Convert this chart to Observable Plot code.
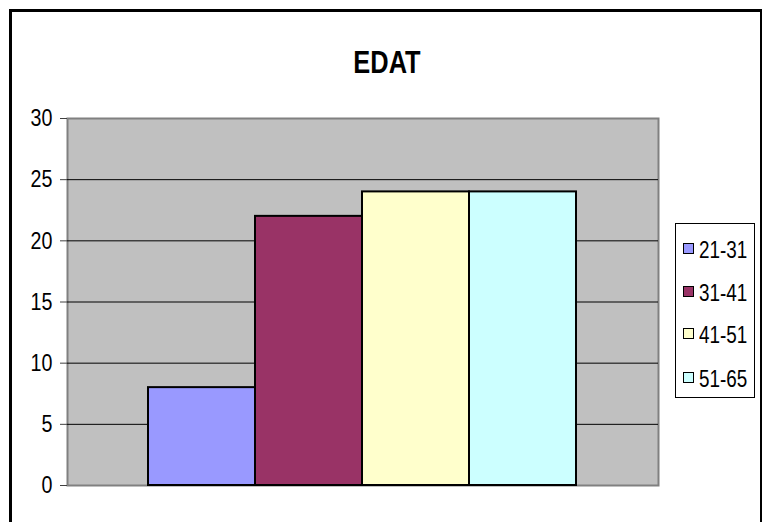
<!DOCTYPE html>
<html>
<head>
<meta charset="utf-8">
<script src="https://cdn.jsdelivr.net/npm/d3@7"></script>
<script src="https://cdn.jsdelivr.net/npm/@observablehq/plot@0.6"></script>
<style>
  html, body { margin: 0; padding: 0; background: #fff; overflow: hidden; width: 762px; height: 522px; }
  #wrap { position: relative; width: 762px; height: 522px; }
  #border { position: absolute; left: 9px; top: 9px; width: 748px; height: 600px; border: 3px solid #000; pointer-events: none; }
  #legend { position: absolute; left: 675px; top: 223px; width: 78px; height: 173px; border: 1px solid #000; background: #fff;
            font-family: "Liberation Sans", Arial, sans-serif; font-size: 23px; color: #000; }
  .item { position: absolute; left: 7px; height: 24px; line-height: 24px; white-space: nowrap; }
  .sw { display: inline-block; width: 9px; height: 9px; border: 1px solid #000; margin-right: 5px; vertical-align: middle; position: relative; top: -1px; }
  .lt { display: inline-block; transform: scaleX(0.82); transform-origin: 0 50%; vertical-align: middle; }
</style>
</head>
<body>
<div id="wrap">
  <div id="chart"></div>
  <div id="legend"></div>
  <div id="border"></div>
</div>
<script>
const title = "EDAT";
const categories = ["21-31", "31-41", "41-51", "51-65"];
const values = [8, 22, 24, 24];
const colors = ["#9999FF", "#993366", "#FFFFCC", "#CCFFFF"];
const yTicks = [0, 5, 10, 15, 20, 25, 30];
const gridValues = [5, 10, 15, 20, 25];

const data = categories.map((c, i) => ({category: c, value: values[i]}));
const font = "'Liberation Sans', Arial, sans-serif";

const chart = Plot.plot({
  width: 762,
  height: 522,
  marginLeft: 67,
  marginRight: 104,
  marginTop: 118,
  marginBottom: 37,
  style: {fontFamily: font, fontSize: "24px", background: "transparent", color: "#000"},
  x: {type: "band", domain: categories, range: [147, 577], padding: 0, axis: null},
  y: {domain: [0, 30], ticks: yTicks},
  color: {domain: categories, range: colors},
  marks: [
    Plot.frame({fill: "#C0C0C0", stroke: "#808080", strokeWidth: 2}),
    Plot.ruleY(gridValues, {stroke: "#000", strokeWidth: 1}),
    Plot.barY(data, {x: "category", y: "value", fill: "category", stroke: "#000", strokeWidth: 2, inset: 0}),
    Plot.axisY({ticks: yTicks, tickSize: 7, tickPadding: 8, fontSize: 24, stroke: "#404040", label: null}),
    Plot.text([title], {frameAnchor: "top", dy: -68, dx: 24, fontSize: 31, fontWeight: "bold", fill: "#000", fontFamily: font})
  ]
});
document.getElementById("chart").appendChild(chart);

// condense text horizontally (narrow font look)
chart.querySelectorAll("g[aria-label='y-axis tick label'] text, g[aria-label='text'] text").forEach(t => {
  const tr = t.getAttribute("transform");
  if (tr) t.setAttribute("transform", tr + " scale(0.82,1)");
});

const legend = document.getElementById("legend");
const rowCenters = [24, 67, 109, 153];
categories.forEach((c, i) => {
  const item = document.createElement("div");
  item.className = "item";
  item.style.top = (rowCenters[i] - 12) + "px";
  const sw = document.createElement("span");
  sw.className = "sw";
  sw.style.background = colors[i];
  item.appendChild(sw);
  const t = document.createElement("span");
  t.className = "lt";
  t.textContent = c;
  item.appendChild(t);
  legend.appendChild(item);
});
</script>
</body>
</html>
